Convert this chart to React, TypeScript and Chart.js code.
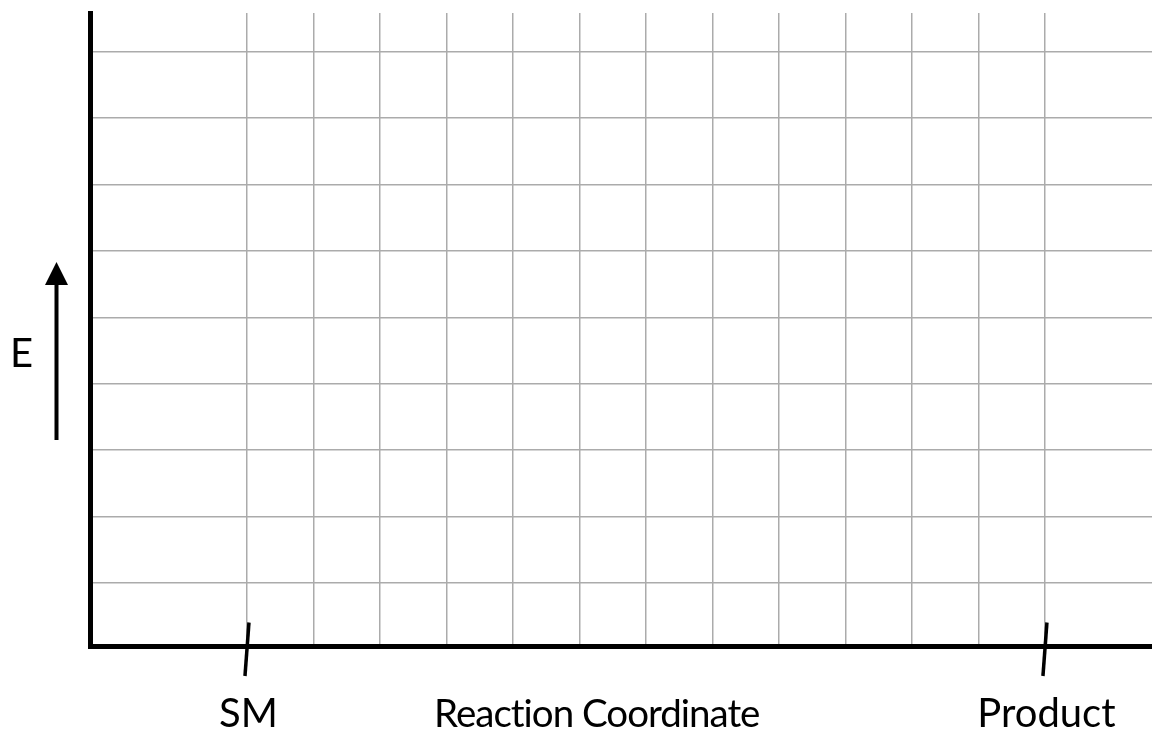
import React, { useEffect, useRef } from "react";
import { Chart, registerables } from "chart.js";

Chart.register(...registerables);

// ---- data ----
const reactionStages = ["SM", "Product"];
const stagePositions = [0, 12];
const gridXValues = [0, 1, 2, 3, 4, 5, 6, 7, 8, 9, 10, 11, 12];
const gridYValues = [1, 2, 3, 4, 5, 6, 7, 8, 9];
const xAxisTitle = "Reaction Coordinate";
const yAxisTitle = "E";

const X_MIN = -2.353;
const X_MAX = 13.61;
const Y_MIN = 0.044;
const Y_MAX = 9.58;
const TITLE_X_VALUE = 5.26;

const FONT = "Lato, 'Open Sans', sans-serif";

export default function App() {
  const ref = useRef<HTMLCanvasElement>(null);

  useEffect(() => {
    const canvas = ref.current;
    if (!canvas) return;

    const annotations = {
      id: "annotations",
      afterDraw(chart: any) {
        const ctx = chart.ctx as any;
        const xs = chart.scales.x;
        const area = chart.chartArea;
        ctx.save();
        ctx.fillStyle = "#000";
        ctx.strokeStyle = "#000";
        ctx.font = `40px ${FONT}`;
        ctx.textAlign = "center";
        ctx.textBaseline = "alphabetic";

        // stage tick marks + labels
        stagePositions.forEach((v, i) => {
          const px = xs.getPixelForValue(v);
          ctx.lineWidth = 3.5;
          ctx.beginPath();
          ctx.moveTo(px + 2, area.bottom - 24);
          ctx.lineTo(px - 2, area.bottom + 29.5);
          ctx.stroke();
          ctx.fillText(reactionStages[i], px + 1.5, area.bottom + 80.5);
        });

        // y title
        ctx.fillText(yAxisTitle, area.left - 69, area.top + 354);

        // x title (slightly condensed, no ligatures)
        ctx.font = `38.5px ${FONT}`;
        ctx.letterSpacing = "-1px";
        ctx.fillText(xAxisTitle, xs.getPixelForValue(TITLE_X_VALUE), area.bottom + 80.5);
        ctx.letterSpacing = "0px";

        // arrow
        const ax = area.left - 34;
        ctx.lineWidth = 4;
        ctx.beginPath();
        ctx.moveTo(ax, area.top + 427);
        ctx.lineTo(ax, area.top + 268);
        ctx.stroke();
        ctx.beginPath();
        ctx.moveTo(ax, area.top + 249);
        ctx.lineTo(ax - 11.5, area.top + 272);
        ctx.lineTo(ax + 11.5, area.top + 272);
        ctx.closePath();
        ctx.fill();

        ctx.restore();
      },
    };

    const chart = new Chart(canvas, {
      type: "scatter",
      data: { datasets: [] },
      options: {
        responsive: false,
        maintainAspectRatio: false,
        animation: false,
        devicePixelRatio: 1,
        layout: { padding: { left: 90.5, top: 13, right: 0, bottom: 85.5 } },
        plugins: {
          legend: { display: false },
          tooltip: { enabled: false },
        },
        scales: {
          x: {
            type: "linear",
            min: X_MIN,
            max: X_MAX,
            afterBuildTicks: (s: any) => {
              s.ticks = gridXValues.map((v) => ({ value: v }));
            },
            afterFit: (s: any) => {
              s.height = 0;
            },
            ticks: { display: false },
            grid: { color: "#ababab", lineWidth: 1.5, drawTicks: false },
            border: { color: "#000", width: 5 },
          },
          y: {
            type: "linear",
            min: Y_MIN,
            max: Y_MAX,
            afterBuildTicks: (s: any) => {
              s.ticks = gridYValues.map((v) => ({ value: v }));
            },
            afterFit: (s: any) => {
              s.width = 0;
            },
            ticks: { display: false },
            grid: { color: "#ababab", lineWidth: 1.5, drawTicks: false },
            border: { color: "#000", width: 5 },
          },
        },
      },
      plugins: [annotations],
    } as any);

    return () => chart.destroy();
  }, []);

  return (
    <div style={{ position: "absolute", left: 0, top: 0, width: 1152, height: 732, background: "#fff" }}>
      <canvas ref={ref} width={1152} height={732} style={{ display: "block" }} />
    </div>
  );
}
